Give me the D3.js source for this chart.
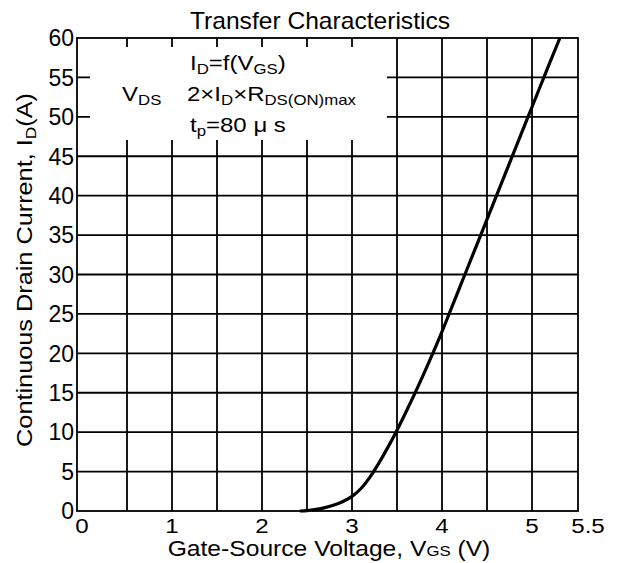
<!DOCTYPE html>
<html>
<head>
<meta charset="utf-8">
<script src="https://cdn.jsdelivr.net/npm/d3@7"></script>
<style>
  body { margin: 0; background: #fff; }
  svg text { font-family: "Liberation Sans", Arial, sans-serif; fill: #000; }
</style>
</head>
<body>
<div class="chart_container"></div>
<script>
// curve (every 0.1 V)
var vgs = [2.42, 2.5, 2.6, 2.7, 2.8, 2.9, 3.0, 3.1, 3.2, 3.3, 3.4, 3.5, 3.6, 3.7, 3.8, 3.9, 4.0,
           4.1, 4.2, 4.3, 4.4, 4.5, 4.6, 4.7, 4.8, 4.9, 5.0, 5.1, 5.2, 5.31];
var id  = [0, 0.05, 0.2, 0.43, 0.75, 1.2, 1.85, 2.85, 4.3, 6.1, 8.1, 10.25, 12.55, 14.95, 17.45, 20.05, 22.75,
           25.6, 28.45, 31.3, 34.15, 37.0, 39.85, 42.7, 45.55, 48.4, 51.25, 54.1, 56.95, 60];
var xTicks = [0, 1, 2, 3, 4, 5, 5.5];
var yTicks = d3.range(0, 61, 5);
var xGrid = [0.5, 1, 1.5, 2, 2.5, 3, 3.5, 4, 4.5, 5];
var yGrid = [5, 10, 15, 20, 25, 30, 35, 40, 45, 50, 55];

var W = 619, H = 563;
var svg = d3.select(".chart_container").append("svg")
    .attr("width", W).attr("height", H);

var x = d3.scaleLinear().domain([0, 5.5]).range([82, 577]);
var y = d3.scaleLinear().domain([0, 60]).range([511, 38]);
var left = 77, right = 578;

var g = svg.append("g");

// grid
g.selectAll(".vg").data(xGrid).enter().append("line")
    .attr("x1", function(d){ return x(d); }).attr("x2", function(d){ return x(d); })
    .attr("y1", y(0)).attr("y2", y(60))
    .attr("stroke", "#000").attr("stroke-width", 1.8);
g.selectAll(".hg").data(yGrid).enter().append("line")
    .attr("x1", left).attr("x2", right)
    .attr("y1", function(d){ return y(d); }).attr("y2", function(d){ return y(d); })
    .attr("stroke", "#000").attr("stroke-width", 1.8);

// white box behind the conditions text
g.append("rect")
    .attr("x", 90).attr("y", 47)
    .attr("width", 297).attr("height", 93)
    .attr("fill", "#fff");

// frame
g.append("rect")
    .attr("x", left).attr("y", y(60))
    .attr("width", right - left).attr("height", y(0) - y(60))
    .attr("fill", "none").attr("stroke", "#000").attr("stroke-width", 1.8);

// curve
var pts = vgs.map(function(v, i){ return [v, id[i]]; });
var line = d3.line()
    .x(function(d){ return x(d[0]); })
    .y(function(d){ return y(d[1]); })
    .curve(d3.curveMonotoneX);
g.append("path").datum(pts)
    .attr("d", line)
    .attr("fill", "none").attr("stroke", "#000").attr("stroke-width", 3.2);

// text helper: the source font is a bit wider than Arial, so stretch it
function label(px, py, size, k, anchor, rot) {
    return svg.append("g")
        .attr("transform", "translate(" + px + "," + py + ")" + (rot ? " rotate(" + rot + ")" : "") + " scale(" + k + ",1)")
        .append("text")
        .attr("text-anchor", anchor || "start")
        .attr("font-size", size);
}
function sub(t, s, after, size) {
    t.append("tspan").attr("font-size", size || 14).attr("dy", 4).text(s);
    t.append("tspan").attr("dy", -4).text(after || "");
}

// tick labels
xTicks.forEach(function(d){
    label(x(d) + (d === 5.5 ? 11 : 0), 533, 21, 1.15, "middle").text(d);
});
yTicks.forEach(function(d){
    label(74, y(d), 23, 1, "end").attr("dy", "0.36em").text(d);
});

// title
label(320, 29, 23, 1.07, "middle").text("Transfer Characteristics");

// axis labels
var xl = label(329, 556, 22, 1.12, "middle");
xl.append("tspan").text("Gate-Source Voltage, V");
xl.append("tspan").attr("font-size", 15).text("GS");
xl.append("tspan").text(" (V)");

var yl = label(32, 270, 22, 1.15, "middle", -90);
yl.append("tspan").text("Continuous Drain Current, I");
sub(yl, "D", "(A)", 15);

// conditions text
var t1 = label(190, 70, 20, 1.2);
t1.append("tspan").text("I");
sub(t1, "D", "=f(V");
sub(t1, "GS", ")");

var t2 = label(122, 101, 20, 1.2);
t2.append("tspan").text("V");
sub(t2, "DS", "");

var t3 = label(187, 101, 20, 1.2);
t3.append("tspan").text("2×I");
sub(t3, "D", "×R");
sub(t3, "DS(ON)max", "");

var t4 = label(190, 132, 20, 1.2);
t4.append("tspan").text("t");
sub(t4, "p", "=80 μ s");
</script>
</body>
</html>
